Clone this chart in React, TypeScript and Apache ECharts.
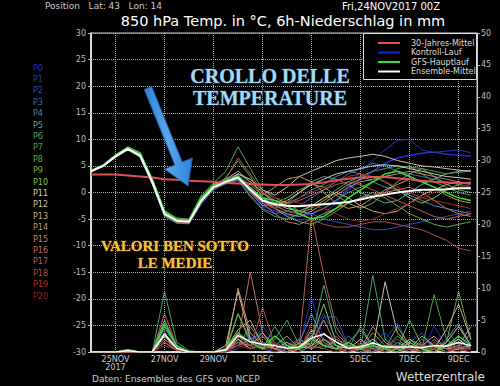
import React, { useEffect, useRef } from 'react';
import * as echarts from 'echarts';

// time axis: days after 24NOV2017 00Z (12h steps)
const dayOffsets = [0, 0.5, 1, 1.5, 2, 2.5, 3, 3.5, 4, 4.5, 5, 5.5, 6, 6.5, 7, 7.5, 8, 8.5, 9, 9.5, 10, 10.5, 11, 11.5, 12, 12.5, 13, 13.5, 14, 14.5, 15, 15.5];
const xTickDays = [1, 3, 5, 7, 9, 11, 13, 15];
const xTickLabels = ['25NOV\n2017', '27NOV', '29NOV', '1DEC', '3DEC', '5DEC', '7DEC', '9DEC'];

const memberNames = ['P0', 'P1', 'P2', 'P3', 'P4', 'P5', 'P6', 'P7', 'P8', 'P9', 'P10', 'P11', 'P12', 'P13', 'P14', 'P15', 'P16', 'P17', 'P18', 'P19', 'P20'];
const memberColors = ['#2a2ad0', '#2a3cb0', '#3050b8', '#3868b0', '#4a88b0', '#60a0a8', '#48a068', '#50a050', '#60a850', '#70b048', '#80c050', '#d0d0b0', '#d0c0a0', '#c8a880', '#c89070', '#c88070', '#c07060', '#b86050', '#b04848', '#a03830', '#902828'];

// 850 hPa temperature (°C)
const tempMembers: number[][] = [
  [3.9, 5.1, 6.9, 8.3, 6.8, 1.8, -4.3, -5.6, -5.8, -2.0, 0.8, 1.8, 2.5, 0.0, -2.5, -3.5, -4.2, -4.5, -4.0, -3.0, -1.5, 0.5, 2.5, 4.0, 5.5, 6.5, 7.0, 7.4, 7.6, 7.2, 7.0, 6.8],
  [4.0, 5.0, 6.7, 8.1, 6.9, 2.1, -3.8, -5.2, -5.4, -1.2, 1.2, 2.2, 3.0, 0.8, -1.8, -3.0, -4.5, -5.2, -5.0, -4.0, -2.0, 1.0, 4.0, 6.0, 8.0, 9.8, 10.0, 8.0, 7.5, 7.8, 8.0, 7.5],
  [4.1, 5.2, 7.0, 8.4, 7.2, 2.4, -3.6, -5.0, -5.2, -0.8, 1.5, 2.4, 3.2, 1.0, -1.0, -2.0, -3.0, -3.5, -4.0, -5.0, -5.5, -6.0, -6.5, -7.0, -7.0, -6.5, -6.0, -5.5, -5.0, -4.5, -4.0, -3.5],
  [4.0, 4.9, 6.6, 8.0, 6.6, 1.5, -4.5, -5.8, -5.9, -2.2, 0.5, 1.6, 2.4, -0.5, -3.0, -4.0, -3.5, -2.5, -1.0, 0.5, 2.0, 3.5, 4.5, 5.5, 5.0, 4.0, 3.5, 3.0, 2.5, 2.0, 1.5, 1.0],
  [3.9, 5.0, 6.8, 8.2, 7.1, 2.2, -3.9, -5.1, -5.3, -1.0, 1.3, 2.5, 3.5, 2.0, 0.0, -1.5, -2.0, -1.0, 0.5, 1.5, 3.0, 4.0, 3.5, 2.0, 1.0, 0.5, -0.5, -1.5, -2.5, -3.0, -3.5, -4.0],
  [4.0, 5.1, 6.9, 8.3, 7.0, 1.9, -4.1, -5.4, -5.6, -1.6, 0.9, 2.0, 2.6, 0.2, -2.0, -3.0, -2.0, 0.0, 2.0, 3.0, 2.5, 1.5, 0.0, -1.0, -2.0, -1.5, 0.0, 1.5, 2.5, 3.5, 4.0, 4.2],
  [4.1, 5.0, 6.7, 8.0, 6.7, 1.6, -4.4, -5.7, -5.8, -1.9, 0.7, 1.7, 2.3, -0.8, -3.2, -4.5, -5.0, -4.0, -2.5, -1.0, 0.5, 2.0, 3.0, 4.0, 4.5, 5.0, 4.8, 4.5, 4.0, 3.5, 3.8, 4.0],
  [3.9, 5.2, 7.1, 8.6, 7.3, 2.6, -3.4, -4.8, -5.0, -0.5, 1.8, 4.0, 8.6, 4.5, 0.5, -1.0, -2.0, -3.5, -4.0, -3.0, -1.5, 0.0, 1.0, 2.0, 3.0, 4.5, 5.0, 3.5, 2.0, 1.0, 0.0, -0.5],
  [4.0, 5.0, 6.8, 8.2, 6.9, 2.0, -4.0, -5.4, -5.5, -1.4, 1.0, 2.8, 6.0, 3.0, -1.0, -3.0, -4.5, -5.5, -6.0, -5.0, -3.5, -2.0, -1.0, 0.0, -1.0, -2.5, -4.0, -5.0, -6.0, -6.5, -6.0, -5.5],
  [4.0, 5.1, 6.9, 8.3, 7.0, 2.1, -3.9, -5.3, -5.5, -1.3, 1.1, 2.1, 2.9, 0.0, -2.5, -2.0, -1.0, 0.5, 1.5, 1.0, -0.5, -2.0, -3.0, -2.0, 0.0, 2.0, 3.5, 4.5, 3.0, 1.5, 0.5, 0.0],
  [4.0, 5.0, 6.8, 8.2, 7.0, 2.0, -4.0, -5.3, -5.5, -1.5, 1.0, 2.0, 3.0, 1.0, -1.0, -2.5, -3.5, -4.0, -3.0, -1.5, 0.0, 1.5, 2.5, 3.0, 2.0, 0.5, -1.0, -2.0, -1.0, 0.5, 1.5, 2.0],
  [4.0, 4.9, 6.7, 8.1, 6.8, 1.7, -4.2, -5.5, -5.6, -1.7, 0.8, 2.2, 3.0, 0.5, -1.5, -2.5, -1.5, 0.0, 1.5, 2.5, 3.5, 4.0, 4.5, 5.0, 5.2, 5.0, 4.5, 4.0, 3.5, 3.0, 2.8, 2.5],
  [4.1, 5.1, 6.9, 8.3, 7.1, 2.3, -3.7, -5.1, -5.2, -1.1, 1.2, 2.0, 3.5, 2.5, 0.5, -0.5, 1.0, 3.0, 4.0, 5.0, 6.0, 6.5, 6.8, 7.2, 6.8, 6.0, 5.5, 5.0, 4.8, 4.5, 4.2, 4.0],
  [4.0, 5.1, 6.9, 8.3, 7.1, 2.2, -3.8, -5.2, -5.3, -1.2, 1.3, 2.5, 4.0, 2.0, 0.0, -2.0, -3.0, -3.5, -2.5, -1.0, 0.0, -1.0, -2.5, -3.5, -4.0, -3.5, -2.0, -0.5, 0.5, 1.5, 2.0, 1.5],
  [3.9, 5.0, 6.7, 8.1, 6.9, 1.9, -4.1, -5.4, -5.6, -1.6, 0.9, 2.0, 3.0, 1.5, -0.5, 1.0, 2.5, 3.0, 2.0, 0.0, -2.0, -3.0, -2.5, -1.0, 0.5, 1.5, 2.5, 2.0, 1.0, -0.5, -1.5, -2.0],
  [4.0, 5.0, 6.8, 8.2, 7.0, 2.0, -4.0, -5.3, -5.4, -1.4, 1.0, 2.0, 3.2, 1.0, -1.5, -3.0, -4.0, -4.5, -3.5, -2.0, -0.5, 1.0, 2.0, 2.5, 3.0, 3.5, 4.0, 3.5, 3.0, 2.5, 2.0, 1.5],
  [4.0, 5.0, 6.6, 8.0, 6.8, 1.8, -4.2, -5.6, -5.7, -1.8, 0.8, 1.9, 3.0, 0.5, -2.0, -4.0, -5.5, -6.0, -5.0, -4.0, -3.0, -2.0, -1.0, -0.5, 0.0, 0.5, 1.0, 0.0, -1.5, -3.0, -4.0, -4.5],
  [4.0, 5.1, 6.9, 8.4, 7.2, 2.3, -3.8, -5.1, -5.3, -1.2, 1.2, 2.6, 6.5, 3.5, 0.0, -1.5, -2.0, -1.5, -0.5, 0.5, 1.5, 2.0, 1.5, 0.5, -0.5, -1.5, -2.5, -3.5, -4.5, -5.0, -4.5, -4.0],
  [3.9, 5.0, 6.8, 8.2, 7.0, 2.0, -4.0, -5.3, -5.5, -1.5, 1.0, 2.0, 3.0, 0.5, -1.5, -2.5, -3.5, -4.0, -5.0, -6.0, -6.5, -6.5, -6.0, -5.5, -5.5, -6.0, -6.5, -7.0, -8.0, -9.0, -10.5, -11.0],
  [4.0, 5.0, 6.7, 8.1, 6.9, 1.9, -4.1, -5.4, -5.6, -1.6, 0.9, 2.1, 3.0, 0.0, -2.0, -3.0, -2.5, -1.0, 0.0, 1.0, 2.0, 3.0, 3.5, 3.0, 2.0, 1.0, 0.0, -1.0, -1.5, -2.0, -2.5, -3.0],
  [4.0, 5.0, 6.8, 8.2, 7.0, 2.1, -3.9, -5.2, -5.4, -1.4, 1.1, 2.2, 3.0, 1.5, 0.0, -1.0, -1.5, -2.0, -2.5, -3.0, -4.0, -5.0, -5.5, -5.0, -4.0, -3.0, -2.0, -1.0, 0.0, 0.5, 1.0, 1.5],
];
const tempMainRun = [4.1, 5.2, 7.0, 8.5, 7.5, 2.5, -3.5, -5.0, -5.2, -1.0, 1.5, 2.2, 3.0, 0.8, -1.0, -1.5, -2.5, -4.0, -5.0, -4.5, -3.0, -1.0, 0.5, 2.0, 3.5, 4.0, 3.0, 2.0, 1.0, 0.0, -1.0, -1.5];
const tempMean = [4.0, 5.0, 6.8, 8.2, 7.0, 2.0, -4.0, -5.3, -5.5, -1.5, 1.0, 2.0, 2.8, 0.5, -1.5, -2.2, -2.5, -2.6, -2.4, -2.2, -2.0, -1.8, -1.3, -0.8, -0.4, 0.0, 0.3, 0.5, 0.5, 0.6, 0.8, 0.8];
const tempClimate = [3.4, 3.4, 3.4, 3.2, 3.0, 2.8, 2.5, 2.4, 2.2, 2.1, 2.0, 1.8, 1.7, 1.6, 1.5, 1.4, 1.4, 1.5, 1.6, 1.9, 2.3, 2.6, 2.8, 2.9, 2.9, 2.7, 2.5, 2.2, 2.0, 1.9, 1.8, 1.8];

// 6h precipitation (mm)
const precipMembers: number[][] = [
  [0, 0, 0, 0.2, 0, 0, 2.0, 0.5, 0, 0, 0, 0, 1.5, 3.0, 1.0, 0.5, 0, 1.0, 8.5, 2.0, 1.0, 0.5, 0, 1.5, 3.0, 1.0, 0.5, 0, 4.0, 1.0, 0.5, 0],
  [0, 0, 0, 0, 0, 0, 3.5, 0.8, 0, 0, 0, 0.5, 2.0, 1.0, 4.0, 1.5, 0.5, 0, 3.0, 6.0, 2.0, 0.5, 0, 0, 2.0, 4.5, 1.0, 0, 0.5, 3.5, 1.0, 2.0],
  [0, 0, 0, 0.3, 0, 0, 1.5, 0.5, 0, 0, 0, 0, 0.5, 2.5, 0.5, 0, 1.0, 2.0, 1.0, 5.5, 5.5, 1.0, 0, 0.5, 1.0, 0.5, 1.5, 3.0, 0.5, 0, 1.0, 0.5],
  [0, 0, 0, 0, 0, 0, 4.0, 1.0, 0, 0, 0, 0.3, 3.0, 1.5, 0.5, 1.0, 0, 0.5, 2.0, 1.0, 0.5, 2.5, 1.0, 0, 0.5, 1.0, 0, 2.0, 1.0, 0, 0.5, 1.5],
  [0, 0, 0, 0.2, 0, 0, 5.0, 0.5, 0, 0, 0, 0, 1.0, 2.0, 3.0, 0.5, 0, 1.5, 6.0, 1.5, 0.5, 0, 1.0, 2.0, 0.5, 0, 1.0, 0.5, 0, 2.0, 4.5, 1.0],
  [0, 0, 0, 0, 0, 0, 2.5, 0.5, 0, 0, 0, 0.5, 2.0, 0.5, 1.0, 2.5, 0.5, 0, 1.0, 2.0, 0.5, 1.5, 3.5, 1.0, 0, 0.5, 2.0, 0.5, 1.0, 0, 0.5, 3.0],
  [0, 0, 0, 0.3, 0, 0, 9.5, 1.5, 0.2, 0, 0, 0.5, 6.0, 2.0, 0.5, 4.0, 1.0, 0.5, 2.0, 10.5, 3.0, 1.0, 0.5, 12.0, 2.0, 0.5, 1.0, 0, 2.0, 0.5, 1.0, 0.5],
  [0, 0, 0, 0, 0, 0, 5.0, 1.0, 0, 0, 0, 0, 3.0, 1.0, 0.5, 2.0, 5.0, 1.0, 0.5, 2.0, 1.0, 0.5, 4.0, 1.0, 0.5, 2.5, 1.0, 0.5, 9.0, 2.0, 0.5, 1.0],
  [0, 0, 0, 0.4, 0, 0, 2.0, 0.5, 0, 0, 0, 0.3, 1.0, 4.0, 1.5, 0.5, 0, 2.0, 1.0, 0.5, 2.0, 1.0, 0.5, 3.0, 1.0, 0.5, 5.0, 1.0, 0.5, 1.5, 9.5, 2.0],
  [0, 0, 0, 0, 0, 0, 3.0, 0.5, 0, 0, 0, 0, 6.0, 1.5, 0.5, 1.0, 2.5, 0.5, 3.5, 1.0, 0.5, 1.0, 0.5, 2.0, 0.5, 4.0, 1.0, 0, 1.0, 0.5, 2.0, 0.5],
  [0, 0, 0, 0.3, 0, 0, 4.5, 1.0, 0, 0, 0, 0.5, 2.5, 1.0, 3.0, 0.5, 1.0, 0.5, 2.0, 7.5, 1.5, 0.5, 1.0, 0.5, 0, 1.5, 0.5, 2.5, 1.0, 0.5, 0.5, 1.0],
  [0, 0, 0, 0, 0, 0, 1.5, 0.3, 0, 0, 0, 0, 2.0, 0.5, 1.0, 0.5, 0, 1.0, 2.5, 1.0, 0.5, 0, 0.5, 1.5, 0.5, 0, 1.0, 0.5, 0, 1.0, 2.0, 0.5],
  [0, 0, 0, 0.2, 0, 0, 2.5, 0.5, 0, 0, 0, 1.0, 9.5, 2.0, 1.0, 0.5, 1.5, 0.5, 1.0, 3.0, 1.0, 0.5, 2.0, 0.5, 11.0, 3.0, 1.0, 0.5, 0, 1.5, 4.0, 1.0],
  [0, 0, 0, 0, 0, 0, 3.0, 0.5, 0, 0, 0, 0.5, 3.5, 5.0, 1.0, 0.5, 0, 0.5, 2.0, 1.0, 0.5, 1.5, 0.5, 0, 1.0, 0.5, 2.0, 1.0, 0.5, 3.5, 7.5, 2.0],
  [0, 0, 0, 0.3, 0, 0, 2.0, 0.5, 0, 0, 0, 0, 10.0, 3.0, 1.0, 0.5, 0, 1.5, 0.5, 2.0, 0.5, 1.0, 0.5, 4.0, 1.5, 0.5, 0, 1.0, 2.5, 0.5, 1.0, 4.0],
  [0, 0, 0, 0, 0, 0, 1.5, 0.3, 0, 0, 0, 0.5, 1.5, 1.0, 2.5, 0.5, 0, 0.5, 1.5, 5.0, 1.0, 0, 0.5, 1.0, 0, 0.5, 1.5, 0.5, 0, 1.0, 0.5, 0.5],
  [0, 0, 0, 0.2, 0, 0, 3.0, 0.5, 0, 0, 0, 0, 2.0, 12.5, 3.0, 1.0, 0.5, 0, 3.5, 1.0, 0.5, 0, 1.0, 0.5, 0, 1.0, 0.5, 0, 0.5, 0, 1.0, 0.5],
  [0, 0, 0, 0, 0, 0, 6.0, 1.0, 0, 0, 0, 0.5, 1.0, 2.0, 1.0, 0.5, 0, 1.0, 21.5, 12.0, 4.0, 1.0, 0.5, 0, 0.5, 1.0, 0.5, 0, 0.5, 0, 1.0, 0.5],
  [0, 0, 0, 0, 0, 0, 2.0, 0.5, 0, 0, 0, 0, 1.5, 0.5, 7.0, 1.0, 0.5, 2.0, 0.5, 1.0, 2.5, 0.5, 0, 1.0, 0.5, 2.0, 0.5, 0, 1.5, 0.5, 0, 1.0],
  [0, 0, 0, 0.2, 0, 0, 1.0, 0.3, 0, 0, 0, 0.5, 2.5, 1.0, 0.5, 1.5, 0.5, 0, 4.5, 1.0, 0.5, 0, 1.5, 0.5, 0, 1.0, 0.5, 1.5, 0, 1.0, 0.5, 0],
  [0, 0, 0, 0, 0, 0, 1.5, 0.5, 0, 0, 0, 0, 1.0, 0.5, 1.0, 0, 0.5, 1.0, 2.0, 0.5, 0, 0.5, 0, 1.0, 0.5, 0, 0.5, 1.0, 0.5, 0, 1.0, 0.5],
];
const precipMainRun = [0, 0, 0, 0.3, 0, 0, 4.0, 1.0, 0, 0, 0, 0.5, 3.0, 1.5, 0.5, 2.5, 1.0, 0.5, 2.0, 1.0, 0.5, 1.5, 0.5, 1.0, 0.5, 0, 1.5, 0.5, 0, 1.0, 2.5, 1.0];
const precipMean = [0, 0, 0, 0.2, 0, 0, 2.8, 0.6, 0, 0, 0, 0.3, 2.6, 1.6, 1.2, 1.0, 0.6, 0.8, 2.2, 2.8, 1.6, 0.6, 0.8, 1.4, 0.8, 0.8, 0.8, 0.7, 1.0, 0.9, 1.5, 1.0];

const legendItems = ['30-Jahres-Mittel', 'Kontroll-Lauf', 'GFS-Hauptlauf', 'Ensemble-Mittel'];
const legendColors = ['#e05050', '#2020e0', '#30e030', '#ffffff'];

const pairs = (vals: number[]) => dayOffsets.map((d, i) => [d, vals[i]]);

export default function App() {
  const ref = useRef<HTMLDivElement>(null);
  useEffect(() => {
    if (!ref.current) return;
    const chart = echarts.init(ref.current, null, { renderer: 'svg' });
    const series: any[] = [];
    series.push({
      type: 'line', data: [[0, null]], symbol: 'none', z: 1, silent: true,
      markLine: {
        silent: true, symbol: 'none', label: { show: false },
        lineStyle: { color: '#aaaaaa', type: 'dotted', width: 1 },
        data: xTickDays.map((d) => ({ xAxis: d })),
      },
    });
    precipMembers.forEach((p, i) => {
      series.push({ type: 'line', yAxisIndex: 1, data: pairs(p), symbol: 'none', z: 2, lineStyle: { width: 1, color: memberColors[i] } });
    });
    series.push({ type: 'line', yAxisIndex: 1, data: pairs(precipMainRun), symbol: 'none', z: 2, lineStyle: { width: 1.2, color: '#30e030' } });
    series.push({ type: 'line', yAxisIndex: 1, data: pairs(precipMean), symbol: 'none', z: 3, lineStyle: { width: 1.5, color: '#ffffff' } });
    tempMembers.forEach((t, i) => {
      series.push({ type: 'line', data: pairs(t), symbol: 'none', z: 4, lineStyle: { width: i === 0 ? 1.5 : 1, color: memberColors[i] } });
    });
    series.push({ type: 'line', data: pairs(tempMainRun), symbol: 'none', z: 5, lineStyle: { width: 1.5, color: '#30e030' } });
    series.push({ type: 'line', data: pairs(tempClimate), symbol: 'none', z: 6, lineStyle: { width: 2, color: '#e05050' } });
    series.push({ type: 'line', data: pairs(tempMean), symbol: 'none', z: 7, lineStyle: { width: 2, color: '#ffffff' } });

    const A = (x: number, y: number) => [x, y];
    const arrowPts = [A(151.7, 86.5), A(182.2, 162), A(192.4, 157.9), A(188, 186), A(164.6, 169.1), A(174.8, 165), A(144.3, 89.5)];

    const graphics: any[] = [
      { type: 'text', x: 45, y: 6, z: 100, style: { text: 'Position   Lat: 43   Lon: 14', fill: '#cccccc', font: '9px "DejaVu Sans"', textVerticalAlign: 'middle' } },
      { type: 'text', x: 283, y: 20.5, z: 100, style: { text: '850 hPa Temp. in °C, 6h-Niederschlag in mm', fill: '#ffffff', font: '14.5px "DejaVu Sans"', textAlign: 'center', textVerticalAlign: 'middle' } },
      { type: 'text', x: 391, y: 6, z: 100, style: { text: 'Fri,24NOV2017 00Z', fill: '#ffffff', font: '10px "DejaVu Sans"', textAlign: 'center', textVerticalAlign: 'middle' } },
      { type: 'text', x: 92, y: 379, z: 100, style: { text: 'Daten: Ensembles des GFS von NCEP', fill: '#cccccc', font: '9px "DejaVu Sans"', textVerticalAlign: 'middle' } },
      { type: 'text', x: 485, y: 377, z: 100, style: { text: 'Wetterzentrale', fill: '#dddddd', font: '12px "DejaVu Sans"', textAlign: 'right', textVerticalAlign: 'middle' } },
      { type: 'rect', z: 100, shape: { x: 363.5, y: 33.5, width: 113, height: 46 }, style: { fill: '#000000', stroke: '#dddddd', lineWidth: 1 } },
    ];
    legendItems.forEach((name, i) => {
      const y = 43 + i * 9.5;
      graphics.push({ type: 'line', z: 101, shape: { x1: 378, y1: y, x2: 400, y2: y }, style: { stroke: legendColors[i], lineWidth: 2 } });
      graphics.push({ type: 'text', z: 101, x: 411, y, style: { text: name, fill: '#dddddd', font: '8px "DejaVu Sans"', textVerticalAlign: 'middle' } });
    });
    memberNames.forEach((name, i) => {
      graphics.push({ type: 'text', z: 100, x: 33, y: 68 + i * 11.4, style: { text: name, fill: memberColors[i], font: '8px "DejaVu Sans"', textVerticalAlign: 'middle' } });
    });
    graphics.push({ type: 'polygon', z: 110, shape: { points: arrowPts }, style: { fill: new echarts.graphic.LinearGradient(0, 0, 1, 0, [{ offset: 0, color: '#2f7fd6' }, { offset: 0.5, color: '#5aa8f0' }, { offset: 1, color: '#2f7fd6' }]), stroke: '#1d5fa8', lineWidth: 1 } });
    const blueTitle = { fill: '#a6daf6', font: 'bold 20px "Liberation Serif"', textAlign: 'center', textVerticalAlign: 'middle', stroke: '#1b3550', lineWidth: 1.2 };
    graphics.push({ type: 'text', z: 110, x: 270, y: 76, style: { ...blueTitle, text: 'CROLLO DELLE' } });
    graphics.push({ type: 'text', z: 110, x: 270, y: 98, style: { ...blueTitle, text: 'TEMPERATURE' } });
    const yellowTitle = { fill: '#f7c63e', font: 'bold 15px "Liberation Serif"', textAlign: 'center', textVerticalAlign: 'middle', stroke: '#5a3200', lineWidth: 1 };
    graphics.push({ type: 'text', z: 110, x: 175, y: 246, style: { ...yellowTitle, text: 'VALORI BEN SOTTO' } });
    graphics.push({ type: 'text', z: 110, x: 175, y: 263, style: { ...yellowTitle, text: 'LE MEDIE' } });

    chart.setOption({
      animation: false,
      backgroundColor: '#000000',
      grid: { left: 91, right: 23, top: 33, bottom: 34, show: true, borderColor: '#cccccc', borderWidth: 1, backgroundColor: 'transparent' },
      xAxis: {
        type: 'value', min: 0, max: 15.75,
        axisLine: { show: true, onZero: false, lineStyle: { color: '#ffffff', width: 1.5 } },
        axisTick: { show: false, customValues: xTickDays },
        splitLine: { show: false },
        axisLabel: {
          customValues: xTickDays, color: '#cccccc', fontSize: 8, fontFamily: 'DejaVu Sans', margin: 3, lineHeight: 8,
          formatter: (v: number) => { const k = xTickDays.indexOf(Math.round(v)); return k >= 0 ? xTickLabels[k] : ''; },
        },
      },
      yAxis: [
        {
          type: 'value', min: -30, max: 30, interval: 5, position: 'left',
          axisLine: { show: true, onZero: false, lineStyle: { color: '#ffffff', width: 1.5 } },
          axisTick: { show: true, length: 3, lineStyle: { color: '#bbbbbb' } },
          axisLabel: { color: '#bbbbbb', fontSize: 8, fontFamily: 'DejaVu Sans', margin: 5 },
          splitLine: { show: true, lineStyle: { color: '#aaaaaa', type: 'dotted', width: 1 } },
        },
        {
          type: 'value', min: 0, max: 50, interval: 5, position: 'right',
          axisLine: { show: true, onZero: false, lineStyle: { color: '#cccccc', width: 1 } },
          axisTick: { show: true, length: 3, lineStyle: { color: '#bbbbbb' } },
          axisLabel: { color: '#bbbbbb', fontSize: 8, fontFamily: 'DejaVu Sans', margin: 4 },
          splitLine: { show: false },
        },
      ],
      series,
      graphic: graphics,
    });
    return () => chart.dispose();
  }, []);
  return <div ref={ref} style={{ position: 'fixed', left: 0, top: 0, width: 500, height: 386, background: '#000' }} />;
}
